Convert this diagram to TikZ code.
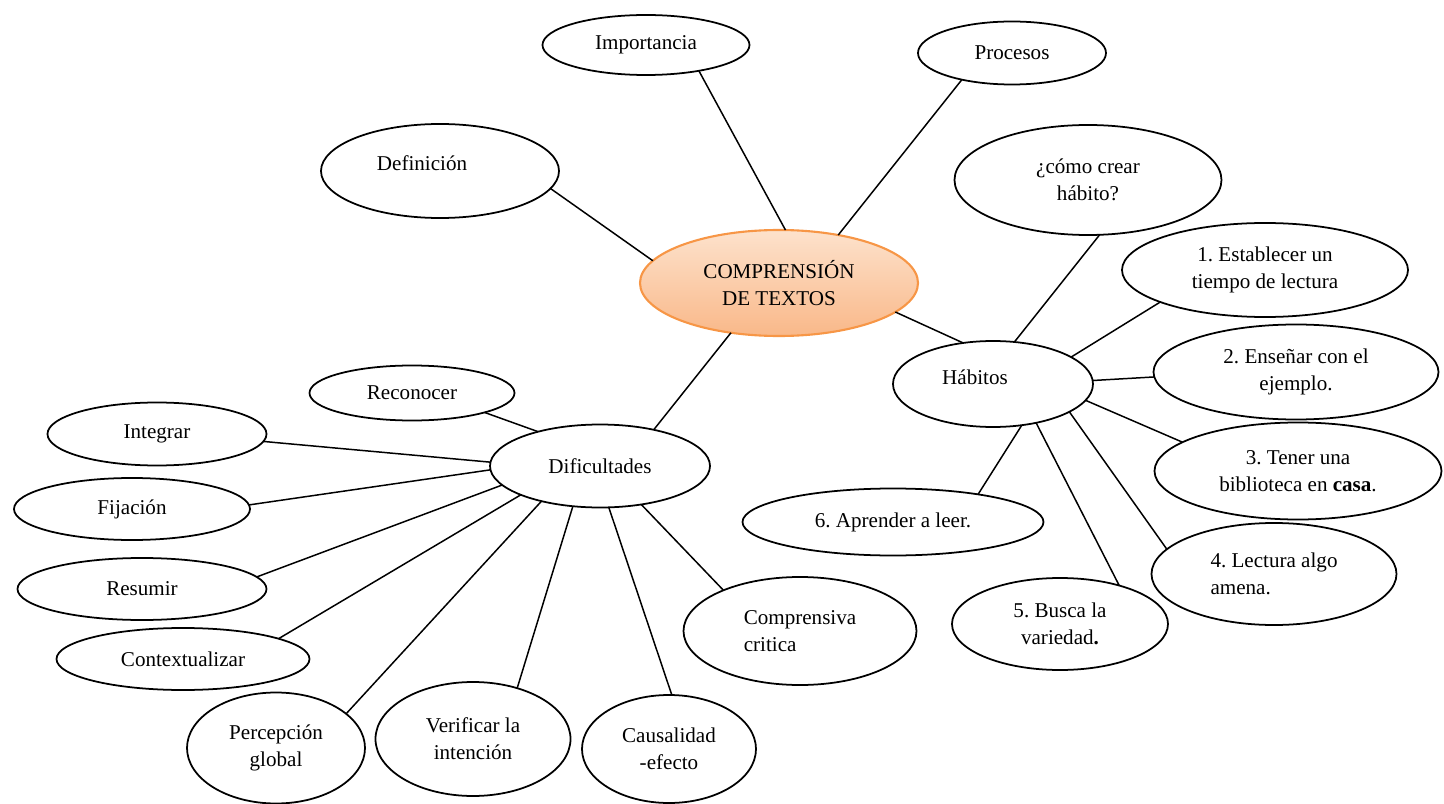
\documentclass[tikz,border=0pt]{standalone}
\usepackage{fontspec}
\setmainfont{Liberation Serif}
\usetikzlibrary{shapes.geometric}
\frenchspacing

\definecolor{naranjaBorde}{HTML}{F79646}
\definecolor{naranjaClaro}{HTML}{FDE2CC}
\definecolor{naranjaFondo}{HTML}{F9B889}

\tikzset{
  burbuja/.style 2 args={ellipse, draw, fill=white, line width=1pt, inner sep=0pt, outer sep=0pt,
    align=center, minimum width=#1*0.02cm, minimum height=#2*0.02cm},
  rama/.style={line width=0.85pt},
}

\begin{document}
\begin{tikzpicture}[x=0.02cm, y=-0.02cm, font=\fontsize{12}{15.5}\selectfont]
    \useasboundingbox (0,0) rectangle (1444,804);
    % centro
    \node[burbuja={278}{106}, draw=naranjaBorde, line width=1.2pt,
          top color=naranjaClaro, bottom color=naranjaFondo] (centro) at (779,283) {COMPRENSIÓN\\DE TEXTOS};
    \node[burbuja={207}{60}] (imp) at (646,45) {Importancia};
    \node[burbuja={188}{63}] (proc) at (1012,53) {Procesos};
    \node[burbuja={238}{94}, label={[shift={(-18,-8)}]center:Definición}] (def) at (440,171) {};
    % habitos
    \node[burbuja={200}{86}, label={[shift={(-18,-7)}]center:Hábitos}] (hab) at (993,384) {};
    \node[burbuja={267}{110}] (como) at (1088,180) {¿cómo crear\\hábito?};
    \node[burbuja={286}{94}] (e1) at (1265,270) {1. Establecer un\\tiempo de lectura};
    \node[burbuja={285}{95}] (e2) at (1296,372) {2. Enseñar con el\\ejemplo.};
    \node[burbuja={287}{97}] (e3) at (1298,471) {3. Tener una\\biblioteca en \textbf{casa}.};
    \node[burbuja={245}{102}, align=left] (e4) at (1274,574) {4. Lectura algo\\amena.};
    \node[burbuja={216}{92}] (e5) at (1060,624) {5. Busca la\\variedad\textbf{.}};
    \node[burbuja={301}{67}] (e6) at (893,522) {6. Aprender a leer.};
    % dificultades
    \node[burbuja={220}{83}] (dif) at (600,466) {Dificultades};
    \node[burbuja={205}{55}] (rec) at (412,393) {Reconocer};
    \node[burbuja={219}{63}] (int) at (157,434) {Integrar};
    \node[burbuja={236}{62}] (fij) at (132,509) {Fijación};
    \node[burbuja={249}{62}] (res) at (142,589) {Resumir};
    \node[burbuja={253}{62}] (con) at (183,659) {Contextualizar};
    \node[burbuja={178}{111}] (per) at (276,748) {Percepción\\global};
    \node[burbuja={195}{114}] (ver) at (473,739) {Verificar la\\intención};
    \node[burbuja={174}{108}] (cau) at (669,749) {Causalidad\\-efecto};
    \node[burbuja={233}{108}, align=left] (com) at (800,631) {Comprensiva\\critica};

    \draw[rama] (imp.-26) -- (centro.83);
    \draw[rama] (proc.208) -- (centro.39);
    \draw[rama] (def.-9) -- (centro.170);
    \draw[rama] (centro.-14) -- (hab.126);
    \draw[rama] (centro.226) -- (dif.34);
    \draw[rama] (hab.63) -- (como.-78);
    \draw[rama] (hab.19) -- (e1.197);
    \draw[rama] (hab.2) -- (e2.182);
    \draw[rama] (hab.-10) -- (e3.166);
    \draw[rama] (hab.-20) -- (e4.167);
    \draw[rama] (hab.-42) -- (e5.33);
    \draw[rama] (hab.-55) -- (e6.18);
    \draw[rama] (dif.151) -- (rec.-15);
    \draw[rama] (dif.178) -- (int.-4);
    \draw[rama] (dif.182) -- (fij.2);
    \draw[rama] (dif.191) -- (res.6);
    \draw[rama] (dif.200) -- (con.12);
    \draw[rama] (dif.211) -- (per.26);
    \draw[rama] (dif.236) -- (ver.49);
    \draw[rama] (dif.282) -- (cau.87);
    \draw[rama] (dif.-43) -- (com.152);
\end{tikzpicture}
\end{document}
